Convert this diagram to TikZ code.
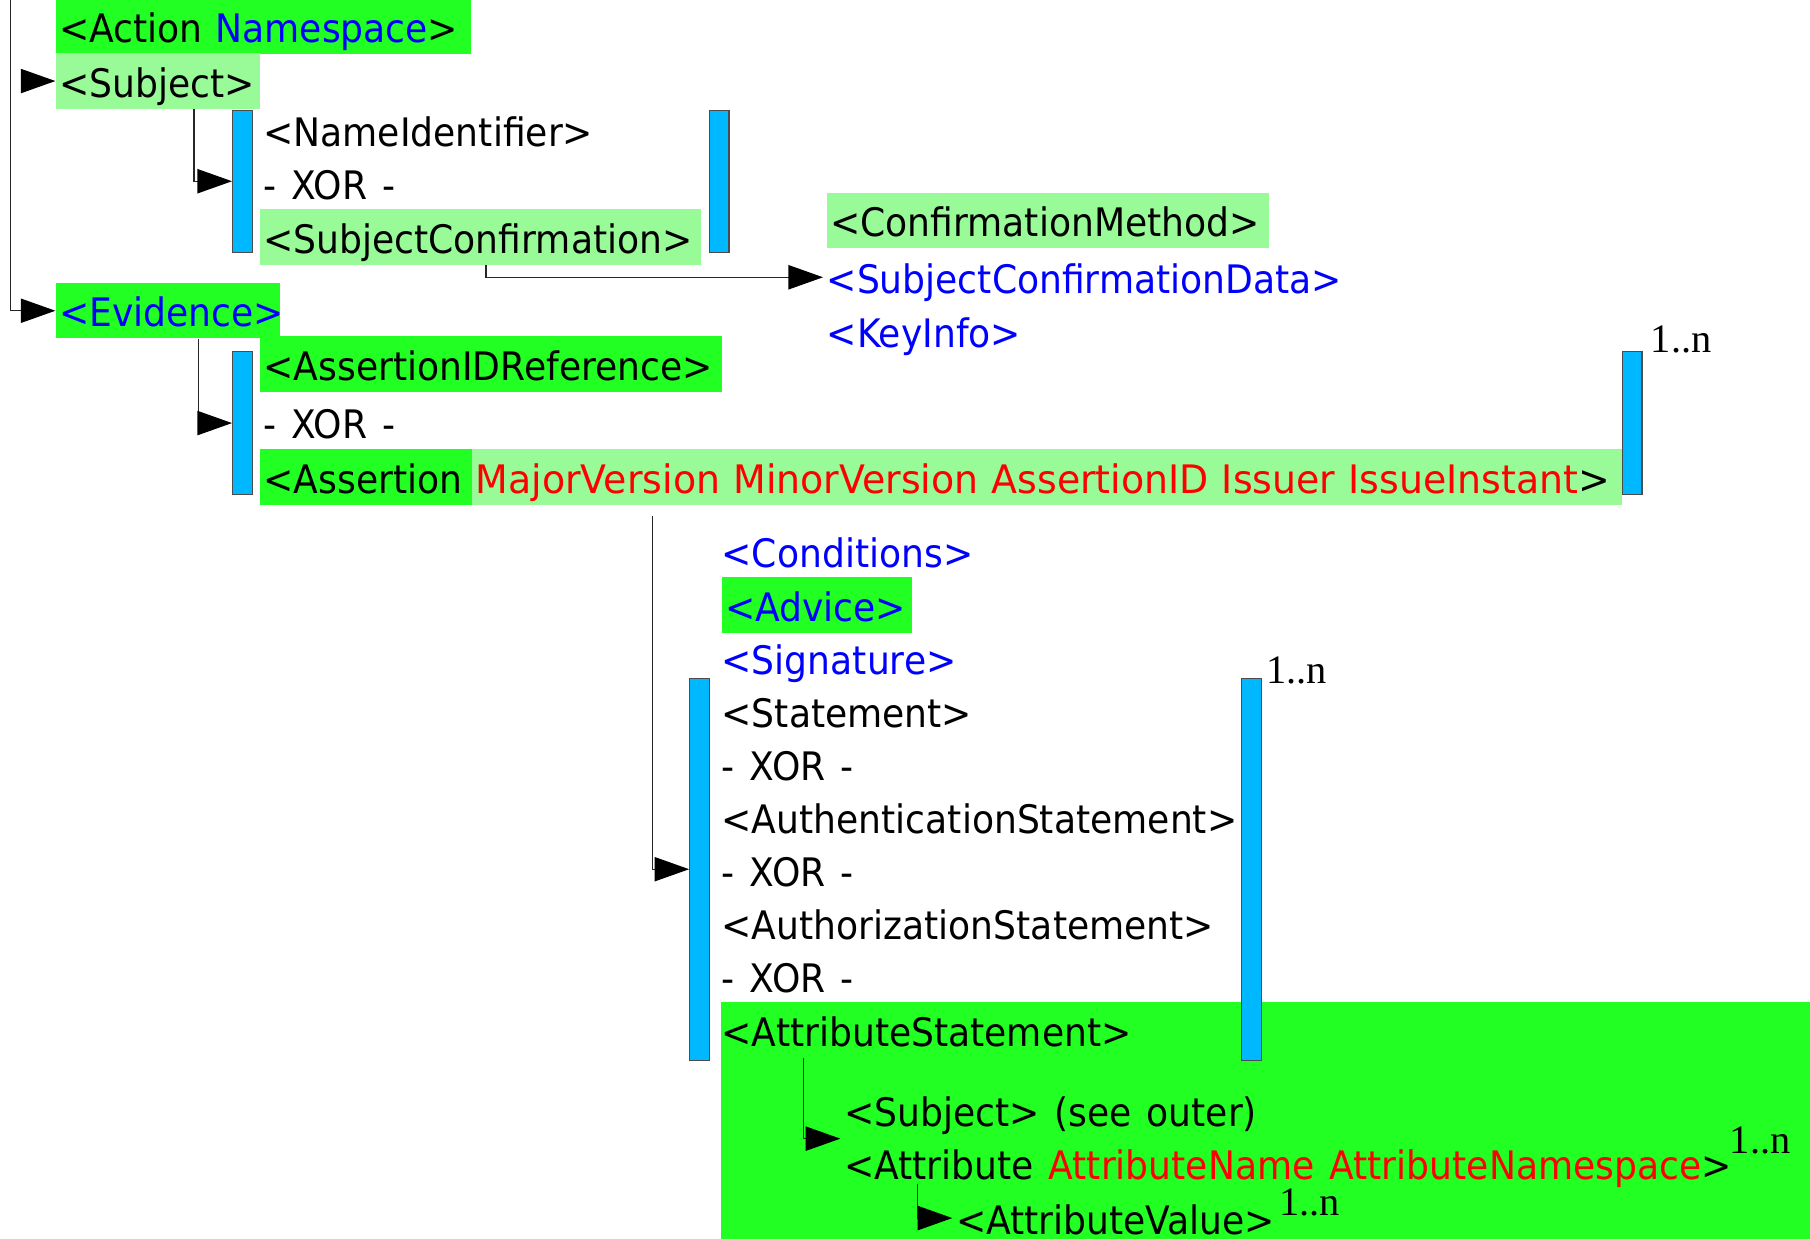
\documentclass[tikz,border=0pt]{standalone}
\usepackage{fontspec}
\setmainfont{DejaVu Sans}[FakeStretch=0.92, WordSpace=1.3]
\newfontfamily\widefont{DejaVu Sans}[FakeStretch=0.965, WordSpace=1.3]
\newfontfamily\multfont{Liberation Serif}
\usetikzlibrary{arrows.meta,positioning}

\definecolor{brightgreen}{RGB}{34,255,34}
\definecolor{palegreen}{RGB}{152,251,152}
\definecolor{barblue}{RGB}{0,184,255}

\begin{document}
\begin{tikzpicture}[x=1pt,y=-1pt]
\tikzstyle{tag} = [anchor=north west, inner xsep=3pt, inner ysep=0pt, minimum height=48pt, text height=33pt, text depth=5pt, align=left, font=\fontsize{34pt}{40pt}\selectfont]
\tikzstyle{bar} = [anchor=north west, draw=black!70, line width=1pt, fill=barblue, minimum width=17pt, inner sep=0pt]
\tikzstyle{conn} = [draw=black!85, line width=1.2pt, -{Triangle[length=30pt,width=21pt,color=black]}]
\tikzstyle{mult} = [anchor=base west, inner sep=0pt, font=\multfont\fontsize{35pt}{35pt}\selectfont]

\clip (0,0) rectangle (1568,1073);

% sfondo di AttributeStatement
\fill[brightgreen] (625,868) rectangle (1590,1100);

% Subject ed Evidence
\node[tag, fill=brightgreen, text width=354pt] (action) at (48,-1) {<Action \textcolor{blue}{Namespace}>};
\node[tag, fill=palegreen, text width=171pt] (subject) at (48,46) {<Subject>};
\node[tag] (nameid) at (225,89) {<NameIdentifier>};
\node[tag] (xor1) at (225,135) {- XOR -};
\node[tag, fill=palegreen, text width=376pt] (subjconf) at (225,181) {<SubjectConfirmation>};
\node[tag, fill=palegreen, text width=377pt] (confmeth) at (716,167) {<ConfirmationMethod>};
\node[tag, text=blue] (scdata) at (713,216) {<SubjectConfirmationData>};
\node[tag, text=blue] (keyinfo) at (713,263) {<KeyInfo>};
\node[tag, fill=brightgreen, text=blue, text width=188pt] (evidence) at (48,245) {<Evidence>};
\node[tag, fill=brightgreen, text width=394pt] (aidref) at (225,291) {<AssertionIDReference>};
\node[tag] (xor2) at (225,342) {- XOR -};
\node[tag, fill=brightgreen, text width=178pt] (asn) at (225,389) {<Assertion};
\node[tag, fill=palegreen, text width=990pt] (asnattr) at (409,389)
  {\mbox{\widefont\textcolor{red}{MajorVersion MinorVersion AssertionID Issuer IssueInstant}>}};

% contenuto di Assertion
\node[tag, text=blue] (conditions) at (622,453) {<Conditions>};
\node[tag, fill=brightgreen, text=blue, text width=159pt] (advice) at (625,500) {<Advice>};
\node[tag, text=blue] (signature) at (622,546) {<Signature>};
\foreach \txt [count=\i] in {<Statement>, - XOR -, <AuthenticationStatement>, - XOR -, <AuthorizationStatement>, - XOR -} {
  \pgfmathsetmacro{\y}{592+46*(\i-1)}
  \node[tag] (stmt-\i) at (622,\y) {\txt};
}
\node[tag] (attrstmt) at (622,868) {<AttributeStatement>};
\node[tag] (subjouter) at (728,938) {<Subject> (see outer)};
\node[tag] (attribute) at (728,984) {<Attribute \textcolor{red}{AttributeName AttributeNamespace}>};
\node[tag] (attrvalue) at (825,1031) {<AttributeValue>};

% barre blu
\foreach \name/\x/\ya/\yb in {bar1/201/95/218, bar2/614/95/218, bar3/201/304/428,
                              bar4/1405/304/428, bar5/597/587/918, bar6/1075/587/918} {
  \pgfmathsetmacro{\h}{\yb-\ya}
  \node[bar, minimum height=\h pt] (\name) at (\x,\ya) {};
}

% molteplicita
\node[mult] (mult1) at (1430,305) {1..n};
\node[mult] (mult2) at (1097,592) {1..n};
\node[mult] (mult3) at ([xshift=-5pt,yshift=9pt]attribute.east) {1..n};
\node[mult] (mult4) at ([yshift=2pt]attrvalue.east) {1..n};

% frecce
\coordinate (root) at (9,-10);
\coordinate (subj-in) at ([xshift=-27pt]subject.west);
\coordinate (asn-out) at (565,447);
\draw[conn] (root) |- (evidence.west);
\draw[conn] (subj-in) -- (subject.west);
\draw[conn] ([xshift=120pt]subject.south west) |- (bar1.west);
\draw[conn] ([xshift=196pt]subjconf.south west) |- (scdata.west);
\draw[conn] ([xshift=124pt]evidence.south west) |- (bar3.west);
\draw[conn] (asn-out) |- (bar5.west);
\draw[conn] ([xshift=74pt]attrstmt.south west) |- (subjouter.south west);
\draw[conn] ([xshift=67pt,yshift=7pt]attribute.south west) |- (attrvalue.west);

\end{tikzpicture}
\end{document}
